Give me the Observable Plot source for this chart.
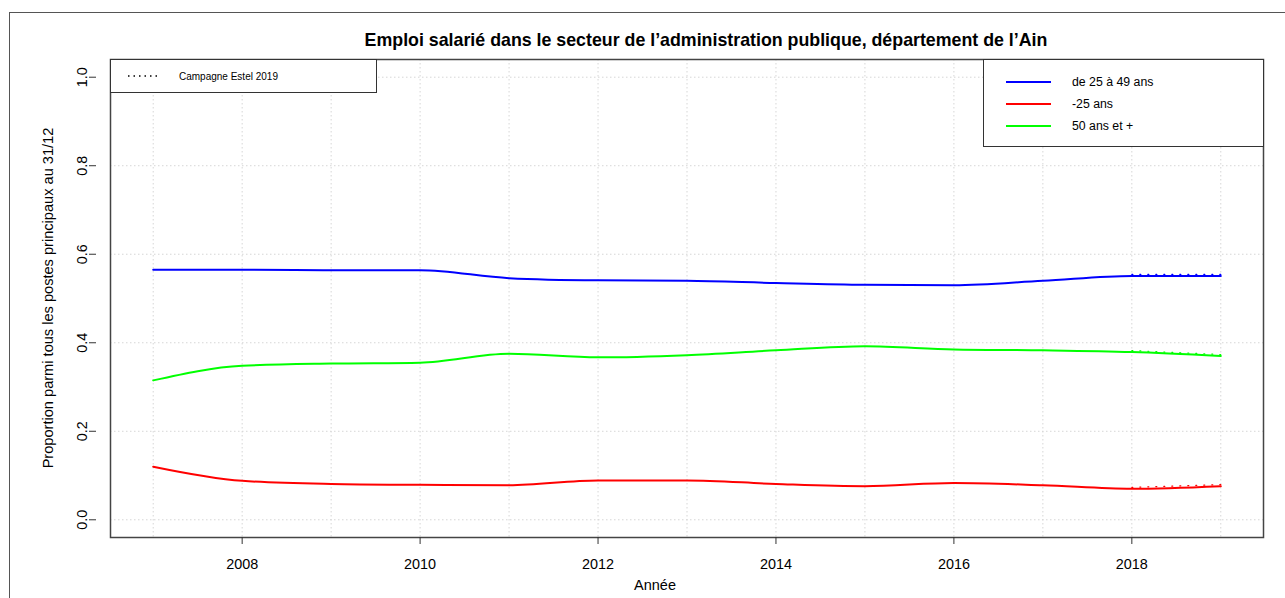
<!DOCTYPE html>
<html>
<head>
<meta charset="utf-8">
<script src="https://cdn.jsdelivr.net/npm/d3@7"></script>
<script src="https://cdn.jsdelivr.net/npm/@observablehq/plot@0.6"></script>
<style>
  html, body { margin: 0; padding: 0; background: #fff; }
  #wrap { position: relative; width: 1285px; height: 598px; overflow: hidden; font-family: "Liberation Sans", Arial, sans-serif; }
  #frame { position: absolute; left: 9px; top: 12px; width: 1290px; height: 600px; border-left: 1.5px solid #555; border-top: 1.5px solid #555; }
  .abs { position: absolute; white-space: nowrap; color: #000; }
  #title { left: 706px; top: 40px; transform: translate(-50%, -50%); font-weight: bold; font-size: 17.8px; }
  #xlab { left: 655px; top: 585px; transform: translate(-50%, -50%); font-size: 14.5px; }
  #ylab { left: 48px; top: 298px; transform: translate(-50%, -50%) rotate(-90deg); font-size: 14.6px; }
  .legbox { position: absolute; background: #fff; border: 1px solid #333; box-sizing: border-box; }
</style>
</head>
<body>
<div id="wrap">
  <div id="frame"></div>
  <div id="plot"></div>
  <div id="title" class="abs">Emploi salarié dans le secteur de l’administration publique, département de l’Ain</div>
  <div id="xlab" class="abs">Année</div>
  <div id="ylab" class="abs">Proportion parmi tous les postes principaux au 31/12</div>
  <div id="leg1" class="legbox" style="left:110px; top:59px; width:267px; height:34px;"></div>
  <div id="leg2" class="legbox" style="left:983px; top:59px; width:281px; height:88px;"></div>
</div>
<script>
const years = [2007, 2008, 2009, 2010, 2011, 2012, 2013, 2014, 2015, 2016, 2017, 2018, 2019];
const age25_49 = [0.565, 0.565, 0.564, 0.564, 0.546, 0.541, 0.540, 0.535, 0.531, 0.530, 0.540, 0.551, 0.551];
const ageMoins25 = [0.120, 0.088, 0.081, 0.079, 0.078, 0.089, 0.089, 0.081, 0.076, 0.083, 0.078, 0.070, 0.076];
const age50plus = [0.315, 0.348, 0.353, 0.355, 0.375, 0.367, 0.372, 0.383, 0.392, 0.385, 0.383, 0.379, 0.370];
const seriesNames = ["de 25 à 49 ans", "-25 ans", "50 ans et +"];
const seriesColors = ["#0000FF", "#FF0000", "#00FF00"];
const seriesValues = [age25_49, ageMoins25, age50plus];
const xTicks = [2008, 2010, 2012, 2014, 2016, 2018];
const yTicks = [0, 0.2, 0.4, 0.6, 0.8, 1.0];
const estelLabel = "Campagne Estel 2019";
const estelYears = [2018, 2019];

const rows = [];
seriesNames.forEach((name, i) => {
  years.forEach((yr, j) => rows.push({ series: name, year: yr, value: seriesValues[i][j] }));
});
const estelRows = rows.filter(d => estelYears.includes(d.year));

const plot = Plot.plot({
  width: 1285,
  height: 598,
  marginLeft: 110,
  marginRight: 22,
  marginTop: 59,
  marginBottom: 61,
  style: { fontFamily: "Liberation Sans, Arial, sans-serif", fontSize: "14px", background: "transparent", overflow: "visible" },
  x: { domain: [2006.52, 2019.48], label: null },
  y: { domain: [-0.04, 1.04], label: null },
  color: { domain: seriesNames, range: seriesColors },
  marks: [
    Plot.ruleX(years, { stroke: "#d6d6d6", strokeDasharray: "1.5,2.5", strokeWidth: 1 }),
    Plot.ruleY(yTicks, { stroke: "#d6d6d6", strokeDasharray: "1.5,2.5", strokeWidth: 1 }),
    Plot.line(rows, { x: "year", y: "value", z: "series", stroke: "series", strokeWidth: 2, curve: "monotone-x" }),
    Plot.line(estelRows, { x: "year", y: "value", z: "series", stroke: "series", strokeWidth: 1.2, strokeDasharray: "1,7", dy: -1.5 }),
    Plot.frame({ stroke: "#444", strokeWidth: 1.5 }),
    Plot.axisX(xTicks, { tickSize: 7, tickPadding: 14, tickFormat: d => String(d), fontSize: 14.4, stroke: "#333", label: null }),
    Plot.axisY(yTicks, { tickSize: 7, tickFormat: d => d.toFixed(1), tickRotate: -90, textAnchor: "middle", dx: -14, fontSize: 14.4, stroke: "#333", label: null })
  ]
});
document.getElementById("plot").appendChild(plot);

// legends
function lineSvg(w, color, dash, width) {
  return `<svg width="${w}" height="6" style="position:absolute;left:0;top:-3px;overflow:visible"><line x1="0" y1="3" x2="${w}" y2="3" stroke="${color}" stroke-width="${width}" ${dash ? `stroke-dasharray="${dash}"` : ""}/></svg>`;
}
const leg1 = document.getElementById("leg1");
leg1.innerHTML = `<div style="position:absolute;left:17px;top:16px;width:33px;height:0">${lineSvg(33, "#000", "1.5,4", 1.5)}</div>
<div class="abs" style="left:68px;top:16px;transform:translateY(-50%);font-size:10px;">${estelLabel}</div>`;
const leg2 = document.getElementById("leg2");
leg2.innerHTML = seriesNames.map((name, i) => `
<div style="position:absolute;left:22px;top:${22 + i * 22}px;width:45px;height:0">${lineSvg(45, seriesColors[i], null, 2)}</div>
<div class="abs" style="left:88px;top:${22 + i * 22}px;transform:translateY(-50%);font-size:12.3px;">${name}</div>`).join("");
</script>
</body>
</html>
